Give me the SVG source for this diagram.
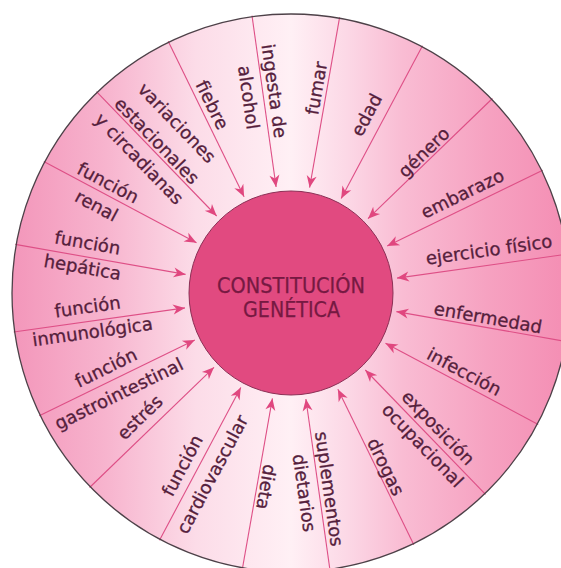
<svg xmlns="http://www.w3.org/2000/svg" width="561" height="568" viewBox="0 0 561 568">
<style>
.lbl{font-family:"DejaVu Sans","Verdana",sans-serif;font-size:18px;fill:#55203c;stroke:#55203c;stroke-width:0.3;text-anchor:middle}
.ctr{font-family:"DejaVu Sans","Verdana",sans-serif;font-size:21px;fill:#761942;stroke:#761942;stroke-width:0.25;text-anchor:middle}
.arr{stroke:#de4f86;stroke-width:1.1;fill:none;marker-end:url(#ah)}
</style>
<defs>
<linearGradient id="ring" gradientUnits="userSpaceOnUse" x1="11" y1="0" x2="571" y2="0">
<stop offset="0" stop-color="#f396ba"/>
<stop offset="0.17" stop-color="#f7b4ce"/>
<stop offset="0.33" stop-color="#fcdce8"/>
<stop offset="0.5" stop-color="#fff0f5"/>
<stop offset="0.6" stop-color="#fcd8e6"/>
<stop offset="0.7" stop-color="#f9bcd3"/>
<stop offset="0.85" stop-color="#f6a2c1"/>
<stop offset="1" stop-color="#f48db3"/>
</linearGradient>
<marker id="ah" viewBox="-13 -6 14 12" refX="0" refY="0" markerWidth="14" markerHeight="12" markerUnits="userSpaceOnUse" orient="auto">
<path d="M0,0 L-12,-5 L-8.5,0 L-12,5 Z" fill="#e0477f"/>
</marker>
</defs>
<rect width="561" height="568" fill="#ffffff"/>
<circle id="ring-bg" cx="291" cy="293" r="279" fill="url(#ring)"/>
<g id="connectors">
<line class="arr" x1="252.0" y1="15.7" x2="276.1" y2="187.0"/>
<line class="arr" x1="339.6" y1="17.3" x2="309.6" y2="187.6"/>
<line class="arr" x1="422.5" y1="45.8" x2="341.2" y2="198.5"/>
<line class="arr" x1="492.4" y1="98.5" x2="368.0" y2="218.7"/>
<line class="arr" x1="542.7" y1="170.2" x2="387.2" y2="246.1"/>
<line class="arr" x1="568.3" y1="254.0" x2="397.0" y2="278.1"/>
<line class="arr" x1="566.7" y1="341.6" x2="396.4" y2="311.6"/>
<line class="arr" x1="538.2" y1="424.5" x2="385.5" y2="343.2"/>
<line class="arr" x1="485.5" y1="494.4" x2="365.3" y2="370.0"/>
<line class="arr" x1="413.8" y1="544.7" x2="337.9" y2="389.2"/>
<line class="arr" x1="330.0" y1="570.3" x2="305.9" y2="399.0"/>
<line class="arr" x1="242.4" y1="568.7" x2="272.4" y2="398.4"/>
<line class="arr" x1="159.5" y1="540.2" x2="240.8" y2="387.5"/>
<line class="arr" x1="89.6" y1="487.5" x2="214.0" y2="367.3"/>
<line class="arr" x1="39.3" y1="415.8" x2="194.8" y2="339.9"/>
<line class="arr" x1="13.7" y1="332.0" x2="185.0" y2="307.9"/>
<line class="arr" x1="15.3" y1="244.4" x2="185.6" y2="274.4"/>
<line class="arr" x1="43.8" y1="161.5" x2="196.5" y2="242.8"/>
<line class="arr" x1="96.5" y1="91.6" x2="216.7" y2="216.0"/>
<line class="arr" x1="168.2" y1="41.3" x2="244.1" y2="196.8"/>
</g>
<circle id="ring-edge" cx="291" cy="293" r="279" fill="none" stroke="#4d4148" stroke-width="1.3"/>
<g id="center">
<circle cx="291" cy="293" r="102" fill="#e14a80" stroke="#8c2f55" stroke-width="1"/>
<text class="ctr" x="291" y="292.5" textLength="148" lengthAdjust="spacingAndGlyphs">CONSTITUCIÓN</text>
<text class="ctr" x="291.5" y="317" textLength="97" lengthAdjust="spacingAndGlyphs">GENÉTICA</text>
</g>
<g id="fiebre"><text class="lbl" transform="translate(212,105) rotate(64)" dy="6">fiebre</text></g>
<g id="alcohol"><text class="lbl" transform="translate(274,91) rotate(82)" dy="6">ingesta de</text><text class="lbl" transform="translate(248.5,97.5) rotate(82)" dy="6">alcohol</text></g>
<g id="fumar"><text class="lbl" transform="translate(316.7,88.3) rotate(-80)" dy="6">fumar</text></g>
<g id="edad"><text class="lbl" transform="translate(366.7,115) rotate(-62)" dy="6">edad</text></g>
<g id="genero"><text class="lbl" transform="translate(424,152.5) rotate(-44)" dy="6">género</text></g>
<g id="embarazo"><text class="lbl" transform="translate(462.5,194) rotate(-26)" dy="6">embarazo</text></g>
<g id="ejercicio"><text class="lbl" transform="translate(489,250) rotate(-8)" dy="6">ejercicio físico</text></g>
<g id="enfermedad"><text class="lbl" transform="translate(488,318) rotate(10)" dy="6">enfermedad</text></g>
<g id="infeccion"><text class="lbl" transform="translate(464,372) rotate(28)" dy="6">infección</text></g>
<g id="exposicion"><text class="lbl" transform="translate(438,428) rotate(46)" dy="6">exposición</text><text class="lbl" transform="translate(422.5,445.5) rotate(46)" dy="6">ocupacional</text></g>
<g id="drogas"><text class="lbl" transform="translate(385.5,467) rotate(64)" dy="6">drogas</text></g>
<g id="suplementos"><text class="lbl" transform="translate(329,489) rotate(82)" dy="6">suplementos</text><text class="lbl" transform="translate(304,493) rotate(82)" dy="6">dietarios</text></g>
<g id="dieta"><text class="lbl" transform="translate(266,487) rotate(100)" dy="6">dieta</text></g>
<g id="cardiovascular"><text class="lbl" transform="translate(182.5,465.7) rotate(-62)" dy="6">función</text><text class="lbl" transform="translate(212.5,474.5) rotate(-62)" dy="6">cardiovascular</text></g>
<g id="estres"><text class="lbl" transform="translate(140,417.5) rotate(-44)" dy="6">estrés</text></g>
<g id="gastrointestinal"><text class="lbl" transform="translate(106,368) rotate(-26)" dy="6">función</text><text class="lbl" transform="translate(119,394) rotate(-26)" dy="6">gastrointestinal</text></g>
<g id="inmunologica"><text class="lbl" transform="translate(87.5,307) rotate(-8)" dy="6">función</text><text class="lbl" transform="translate(92.5,332) rotate(-8)" dy="6">inmunológica</text></g>
<g id="hepatica"><text class="lbl" transform="translate(87.5,243) rotate(10)" dy="6">función</text><text class="lbl" transform="translate(82.5,267.5) rotate(10)" dy="6">hepática</text></g>
<g id="renal"><text class="lbl" transform="translate(108,183) rotate(28)" dy="6">función</text><text class="lbl" transform="translate(96.5,206) rotate(28)" dy="6">renal</text></g>
<g id="variaciones"><text class="lbl" transform="translate(176.7,123) rotate(46)" dy="6">variaciones</text><text class="lbl" transform="translate(156.7,141) rotate(46)" dy="6">estacionales</text><text class="lbl" transform="translate(139,159) rotate(46)" dy="6">y circadianas</text></g>
</svg>
